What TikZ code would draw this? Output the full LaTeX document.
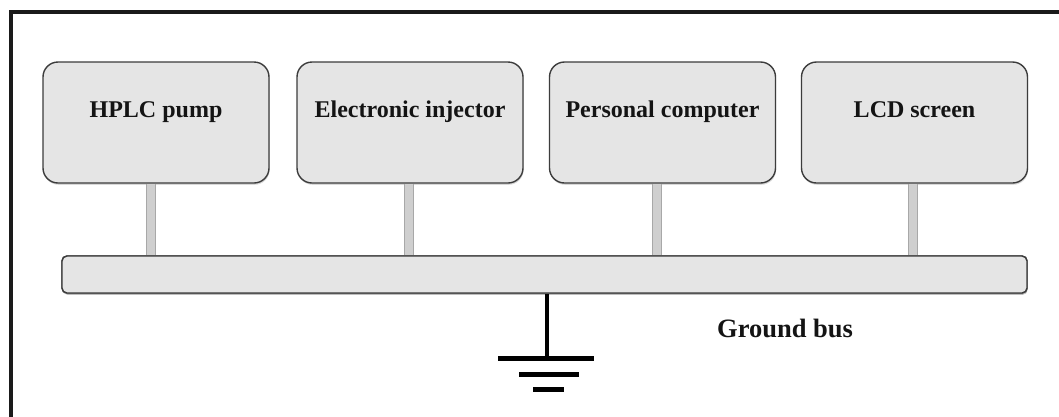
\documentclass[tikz,border=0pt]{standalone}
\usepackage{fontspec}
\setmainfont{Liberation Serif}
\usetikzlibrary{shadows,calc}
\definecolor{boxfill}{HTML}{E5E5E5}
\definecolor{boxedge}{HTML}{3C3C3C}
\definecolor{stemfill}{HTML}{CFCFCF}
\definecolor{stemedge}{HTML}{A8A8A8}
\definecolor{framecol}{HTML}{1A1A1A}
\definecolor{textcol}{HTML}{141414}
\tikzset{
  devbox/.style={draw=boxedge, line width=1.4pt, fill=boxfill, rounded corners=15pt,
    minimum width=226pt, minimum height=121pt, inner sep=0pt,
    drop shadow={shadow xshift=0.6pt, shadow yshift=-1.8pt, opacity=0.3}},
  busbox/.style={draw=boxedge, line width=1.4pt, fill=boxfill, rounded corners=5pt,
    minimum width=965pt, minimum height=37pt, inner sep=0pt,
    drop shadow={shadow xshift=0.6pt, shadow yshift=-1.8pt, opacity=0.3}},
  devlabel/.style={font=\fontsize{24}{28}\selectfont\bfseries, text=textcol, inner sep=0pt, anchor=base},
  buslabel/.style={font=\fontsize{26.5}{30}\selectfont\bfseries, text=textcol, inner sep=0pt, anchor=base west},
  stem/.style={draw=stemedge, line width=1pt, double=stemfill, double distance=8pt},
  gnd/.style={draw=black, line width=4pt},
  gndbar/.style={draw=black, line width=5pt},
  framestyle/.style={draw=framecol, line width=4pt}
}
\begin{document}
\begin{tikzpicture}[x=1pt,y=-1pt]
\useasboundingbox (0,0) rectangle (1059,416);
\fill[white] (0,0) rectangle (1059,416);
% frame (top and left edges only visible)
\coordinate (ftr) at (1062,12);
\coordinate (ftl) at (11,12);
\coordinate (fbl) at (11,420);
\draw[framestyle] (ftr) -- (ftl) -- (fbl);
% bus
\node[busbox] (bus) at (544.5,274.5) {};
% devices
\node[devbox] (hplc) at (156,122.5) {};
\node[devbox] (inj)  at (410,122.5) {};
\node[devbox] (pc)   at (662.5,122.5) {};
\node[devbox] (lcd)  at (914.5,122.5) {};
\node[devlabel] (hplct) at (156,117) {HPLC pump};
\node[devlabel] (injt)  at (410,117) {Electronic injector};
\node[devlabel] (pct)   at (662.5,117) {Personal computer};
\node[devlabel] (lcdt)  at (914.5,117) {LCD screen};
% stems
\draw[stem] ([xshift=-5pt,yshift=-0.7pt]hplc.south) -- ([xshift=-5pt]hplc.south |- bus.north);
\draw[stem] ([xshift=-1pt,yshift=-0.7pt]inj.south) -- ([xshift=-1pt]inj.south |- bus.north);
\draw[stem] ([xshift=-5.5pt,yshift=-0.7pt]pc.south) -- ([xshift=-5.5pt]pc.south |- bus.north);
\draw[stem] ([xshift=-1.5pt,yshift=-0.7pt]lcd.south) -- ([xshift=-1.5pt]lcd.south |- bus.north);
% redraw bus border over stems' ends
\node[busbox, drop shadow={opacity=0}] (bus2) at (bus) {};
% ground
\coordinate (g0) at (547,358);
\draw[gnd] ([xshift=2.5pt,yshift=-0.7pt]bus.south) -- (g0);
\coordinate (b1l) at (498,358); \coordinate (b1r) at (594,358);
\coordinate (b2l) at (519,374); \coordinate (b2r) at (579,374);
\coordinate (b3l) at (533,389); \coordinate (b3r) at (564,389);
\draw[gndbar] (b1l) -- (b1r);
\draw[gndbar] (b2l) -- (b2r);
\draw[gndbar] (b3l) -- (b3r);
\node[buslabel] (gbus) at (717,337) {Ground bus};
\end{tikzpicture}
\end{document}
